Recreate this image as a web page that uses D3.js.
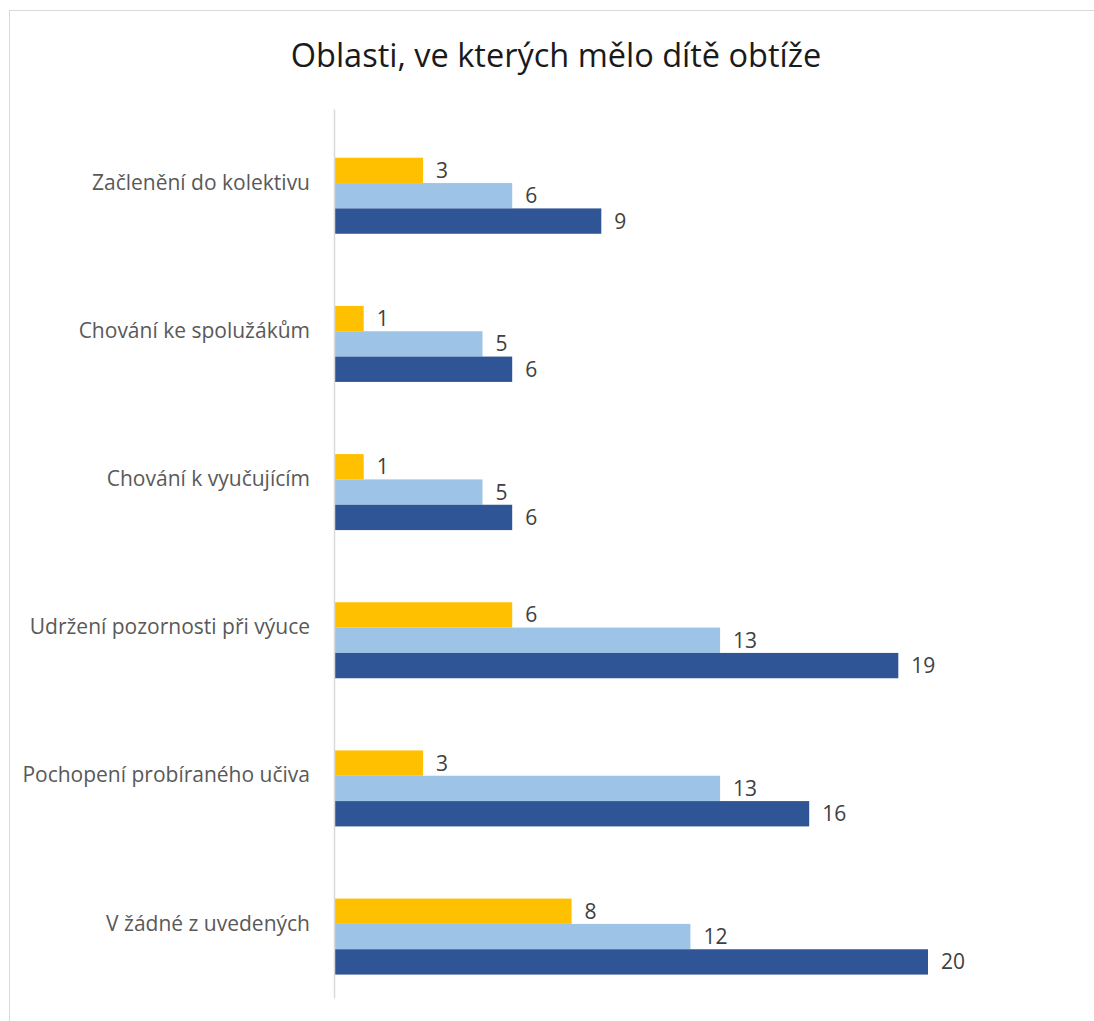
<!DOCTYPE html>
<html>
<head>
<meta charset="utf-8">
<script src="https://cdn.jsdelivr.net/npm/d3@7"></script>
<style>
  html, body { margin: 0; padding: 0; background: #fff; }
  svg { display: block; }
</style>
</head>
<body>
<svg id="chart" width="1094" height="1021"></svg>
<script>
const title = "Oblasti, ve kterých mělo dítě obtíže";
const categories = [
  "Začlenění do kolektivu",
  "Chování ke spolužákům",
  "Chování k vyučujícím",
  "Udržení pozornosti při výuce",
  "Pochopení probíraného učiva",
  "V žádné z uvedených"
];
const seriesNames = ["Řada A", "Řada B", "Řada C"];
const seriesA = [3, 1, 1, 6, 3, 8];
const seriesB = [6, 5, 5, 13, 13, 12];
const seriesC = [9, 6, 6, 19, 16, 20];
const seriesColors = ["#FFC000", "#9DC3E6", "#2F5597"];
const xMax = 20;

const svg = d3.select("#chart");
const W = 1094, H = 1021;
const plot = { left: 334, right: 928, top: 109, bottom: 998 };
const FONT = "'Open Sans', 'Noto Sans', sans-serif";

// outer chart border
svg.append("rect")
  .attr("x", 9.5).attr("y", 10.5)
  .attr("width", W + 20).attr("height", H + 20)
  .attr("fill", "#fff").attr("stroke", "#d9d9d9").attr("stroke-width", 1);

svg.append("text")
  .attr("x", 556).attr("y", 67)
  .attr("text-anchor", "middle")
  .attr("font-family", FONT)
  .attr("font-size", 32.5)
  .attr("fill", "#1a1a1a")
  .text(title);

const x = d3.scaleLinear().domain([0, xMax]).range([plot.left, plot.right]);
const y0 = d3.scaleBand().domain(categories).range([plot.top, plot.bottom]).padding(0);
const bw = y0.bandwidth();
const gap = bw * 0.316;
// four slots per group; first slot is empty (as in the original)
const slots = ["_empty"].concat(seriesNames);
const y1 = d3.scaleBand().domain(slots).range([gap / 2, bw - gap / 2]).padding(0);

const seriesValues = [seriesA, seriesB, seriesC];
const data = [];
categories.forEach((c, i) => {
  seriesNames.forEach((s, j) => {
    data.push({ cat: c, series: s, value: seriesValues[j][i], color: seriesColors[j] });
  });
});

const g = svg.append("g");
g.selectAll("rect.bar").data(data).enter().append("rect")
  .attr("class", "bar")
  .attr("x", x(0))
  .attr("y", d => y0(d.cat) + y1(d.series))
  .attr("width", d => x(d.value) - x(0))
  .attr("height", y1.bandwidth())
  .attr("fill", d => d.color);

g.selectAll("text.val").data(data).enter().append("text")
  .attr("class", "val")
  .attr("x", d => x(d.value) + 13)
  .attr("y", d => y0(d.cat) + y1(d.series) + y1.bandwidth() / 2)
  .attr("dy", "0.36em")
  .attr("font-family", FONT)
  .attr("font-size", 21)
  .attr("fill", "#404040")
  .text(d => d.value);

// category axis
const yAxis = d3.axisLeft(y0).tickSize(0).tickPadding(24);
const ax = svg.append("g").attr("transform", `translate(${plot.left},0)`).call(yAxis);
ax.select(".domain").attr("stroke", "#d9d9d9").attr("stroke-width", 1.5);
ax.selectAll("text")
  .attr("font-family", FONT)
  .attr("font-size", 21)
  .attr("fill", "#595959");
</script>
</body>
</html>
